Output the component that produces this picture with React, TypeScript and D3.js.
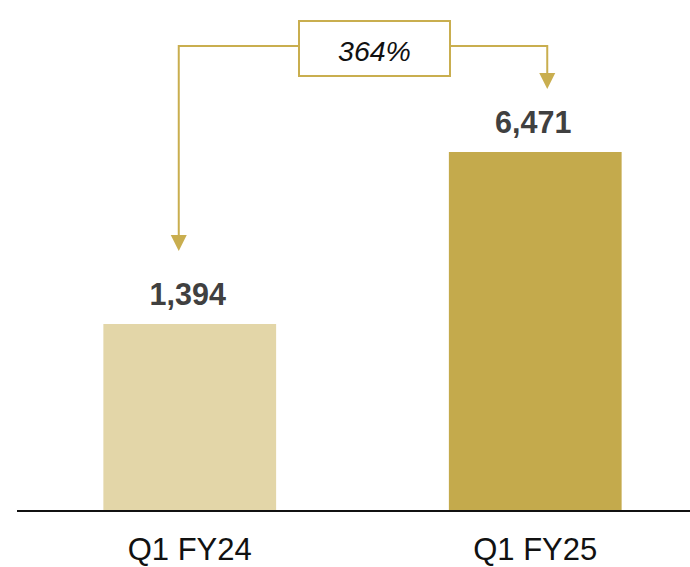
import React from "react";
import * as d3 from "d3";

const categories = ["Q1 FY24", "Q1 FY25"];
const values = [1394, 6471];
const valueLabels = ["1,394", "6,471"];
const barColors = ["#E3D6A8", "#C4AA4C"];
const growthLabel = "364%";

const W = 690;
const H = 567;
const baseY = 511;

export default function App() {
  const x = d3
    .scaleBand<string>()
    .domain(categories)
    .range([17, 708])
    .paddingInner(0.5)
    .paddingOuter(0.25);
  // non-zero-based axis as in the reference
  const y = d3.scaleLinear().domain([-4126, 6471]).range([baseY, 152]);
  const gold = "#C9AE4F";
  const c0 = (x(categories[0]) as number) + x.bandwidth() / 2;
  const c1 = (x(categories[1]) as number) + x.bandwidth() / 2;
  const lx = c0 - 11;
  const rx = c1 + 12;
  const lineY = 46;
  const boxX0 = 299, boxX1 = 450, boxY0 = 21, boxY1 = 76;
  const leftTip = y(values[0]) - 73;
  const rightTip = y(values[1]) - 63;
  const ah = 16, aw = 8;
  return (
    <svg width={W} height={H} style={{ position: "absolute", left: 0, top: 0, background: "#fff" }}
      fontFamily="Liberation Sans, Arial, sans-serif">
      {values.map((v, i) => (
        <rect key={i} x={x(categories[i])} y={y(v)} width={x.bandwidth()} height={baseY - y(v)} fill={barColors[i]} />
      ))}
      <line x1={17} x2={690} y1={baseY} y2={baseY} stroke="#111" strokeWidth={2} />
      {categories.map((c, i) => (
        <text key={c} x={(x(c) as number) + x.bandwidth() / 2} y={560} textAnchor="middle" fontSize={31} fill="#111">{c}</text>
      ))}
      {values.map((v, i) => (
        <text key={i} x={(x(categories[i]) as number) + x.bandwidth() / 2 - 2} y={y(v) - 19} textAnchor="middle"
          fontSize={30.5} fontWeight="bold" fill="#404040">{valueLabels[i]}</text>
      ))}
      <polyline points={`${lx},${leftTip - ah} ${lx},${lineY} ${boxX0},${lineY}`} fill="none" stroke={gold} strokeWidth={2} />
      <polygon points={`${lx - aw},${leftTip - ah} ${lx + aw},${leftTip - ah} ${lx},${leftTip}`} fill={gold} />
      <polyline points={`${boxX1},${lineY} ${rx},${lineY} ${rx},${rightTip - ah}`} fill="none" stroke={gold} strokeWidth={2} />
      <polygon points={`${rx - aw},${rightTip - ah} ${rx + aw},${rightTip - ah} ${rx},${rightTip}`} fill={gold} />
      <rect x={boxX0} y={boxY0} width={boxX1 - boxX0} height={boxY1 - boxY0} fill="#fff" stroke={gold} strokeWidth={2} />
      <text x={(boxX0 + boxX1) / 2} y={61} textAnchor="middle" fontSize={28.5} fontStyle="italic" fill="#111">{growthLabel}</text>
    </svg>
  );
}
